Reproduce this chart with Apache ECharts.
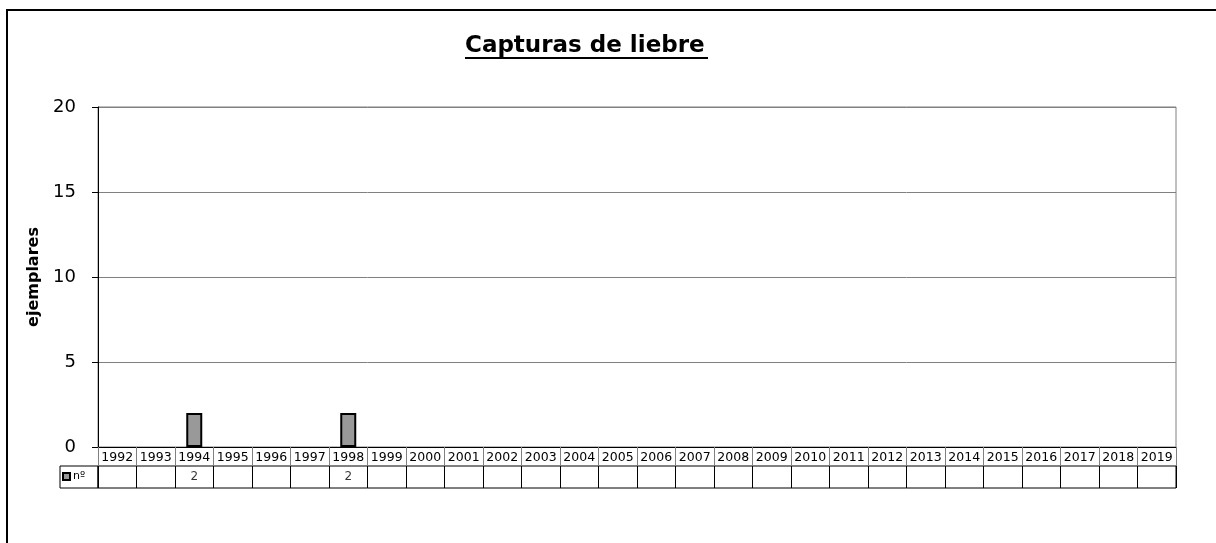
<!DOCTYPE html>
<html>
<head>
<meta charset="utf-8">
<script src="https://cdn.jsdelivr.net/npm/echarts@6/dist/echarts.min.js"></script>
<style>
  html, body { margin: 0; padding: 0; background: #fff; }
  #main { width: 1216px; height: 543px; }
</style>
</head>
<body>
<div id="main"></div>
<script>
// años de la tabla
const years = ['1992', '1993', '1994', '1995', '1996', '1997', '1998', '1999', '2000', '2001',
  '2002', '2003', '2004', '2005', '2006', '2007', '2008', '2009', '2010', '2011',
  '2012', '2013', '2014', '2015', '2016', '2017', '2018', '2019']
// capturas (nº de ejemplares), null = sin dato
const counts = [null, null, 2, null, null, null, 2, null, null, null,
  null, null, null, null, null, null, null, null, null, null,
  null, null, null, null, null, null, null, null]
const yTicks = { min: 0, max: 20, interval: 5 }
const seriesName = 'nº'

const font = 'DejaVu Sans'
const chart = echarts.init(document.getElementById('main'))

// celdas de la fila de valores
const tableCells = []
years.forEach((y, i) => {
  if (counts[i] != null) tableCells.push([y, 0.5, counts[i]])
})

const option = {
  backgroundColor: '#fff',
  animation: false,
  title: {
    text: 'Capturas de liebre',
    left: 465,
    top: 35,
    padding: 0,
    textStyle: { fontFamily: font, fontWeight: 'bold', fontSize: 23, color: '#000' }
  },
  legend: {
    data: [seriesName],
    left: 62,
    top: 471,
    itemWidth: 7,
    itemHeight: 7,
    itemGap: 2,
    padding: 0,
    icon: 'rect',
    textStyle: { fontFamily: font, fontSize: 11, color: '#000', padding: [0, 0, 0, -2] }
  },
  grid: [
    { left: 98, top: 107, width: 1078, height: 340, show: true, borderColor: '#808080', borderWidth: 1, backgroundColor: 'transparent' },
    { left: 98, top: 466, width: 1078, height: 22, show: true, borderColor: '#000', borderWidth: 1, backgroundColor: 'transparent' }
  ],
  xAxis: [
    {
      type: 'category',
      gridIndex: 0,
      data: years,
      axisLine: { show: true, lineStyle: { color: '#000', width: 1 } },
      axisTick: { show: true, interval: 0, length: 19, lineStyle: { color: '#808080' } },
      axisLabel: { interval: 0, margin: 4, fontFamily: font, fontSize: 12.5, color: '#000' },
      splitLine: { show: false }
    },
    {
      type: 'category',
      gridIndex: 1,
      data: years,
      axisLine: { show: false },
      axisTick: { show: false },
      axisLabel: { show: false },
      splitLine: { show: true, interval: 0, lineStyle: { color: '#000', width: 1 } }
    }
  ],
  yAxis: [
    {
      type: 'value',
      gridIndex: 0,
      min: yTicks.min,
      max: yTicks.max,
      interval: yTicks.interval,
      name: 'ejemplares',
      nameLocation: 'middle',
      nameGap: 56,
      nameTextStyle: { fontFamily: font, fontWeight: 'bold', fontSize: 16, color: '#000' },
      axisLine: { show: true, lineStyle: { color: '#000', width: 1 } },
      axisTick: { show: true, length: 6, lineStyle: { color: '#000' } },
      axisLabel: { margin: 22, fontFamily: font, fontSize: 18, color: '#000' },
      splitLine: { show: true, lineStyle: { color: '#808080', width: 1 } }
    },
    {
      type: 'value',
      gridIndex: 1,
      min: 0,
      max: 1,
      show: false
    }
  ],
  series: [
    {
      name: seriesName,
      type: 'bar',
      xAxisIndex: 0,
      yAxisIndex: 0,
      barWidth: 16,
      data: counts,
      itemStyle: { color: '#999999', borderColor: '#000', borderWidth: 2 }
    },
    {
      type: 'scatter',
      xAxisIndex: 1,
      yAxisIndex: 1,
      symbolSize: 0,
      silent: true,
      data: tableCells,
      label: {
        show: true,
        position: 'inside',
        formatter: p => String(p.value[2]),
        fontFamily: font,
        fontSize: 12,
        color: '#000'
      }
    }
  ],
  graphic: [
    // marco exterior
    { type: 'rect', z: -1, shape: { x: 7, y: 10, width: 1400, height: 700 }, style: { fill: 'none', stroke: '#000', lineWidth: 2 } },
    // subrayado del título
    { type: 'line', shape: { x1: 465, y1: 58, x2: 708, y2: 58 }, style: { stroke: '#000', lineWidth: 2 } },
    // celda de la leyenda
    { type: 'rect', shape: { x: 60, y: 466, width: 38, height: 22 }, style: { fill: 'none', stroke: '#000', lineWidth: 1 } }
  ]
}

chart.setOption(option)
</script>
</body>
</html>
